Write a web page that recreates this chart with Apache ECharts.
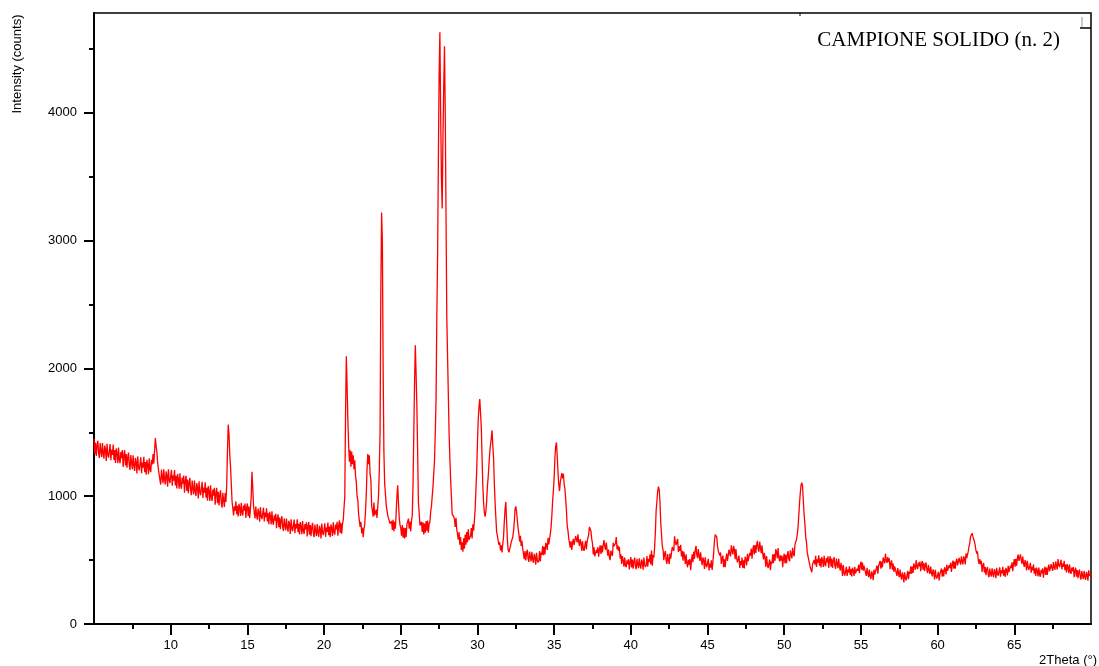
<!DOCTYPE html>
<html>
<head>
<meta charset="utf-8">
<title>CAMPIONE SOLIDO (n. 2)</title>
<script src="https://cdn.jsdelivr.net/npm/echarts@6/dist/echarts.min.js"></script>
<style>
html, body { margin: 0; padding: 0; background: #fff; }
#chart { width: 1099px; height: 666px; }
</style>
</head>
<body>
<div id="chart"></div>
<script>
// diffrattogramma: 2theta da 5 a 70 gradi, passo 0.05
const twoThetaStart = 5;
const twoThetaStep = 0.05;
const xTickLabels = [10, 15, 20, 25, 30, 35, 40, 45, 50, 55, 60, 65];
const xMinorTicks = [7.5, 12.5, 17.5, 22.5, 27.5, 32.5, 37.5, 42.5, 47.5, 52.5, 57.5, 62.5, 67.5];
const yTickLabels = [0, 1000, 2000, 3000, 4000];
const yMinorTicks = [500, 1500, 2500, 3500, 4500];
// una riga per grado (x.00 ... x.95)
const countsByDegree = [
  [1450,1331,1420,1314,1397,1434,1334,1299,1415,1354,1306,1415,1335,1294,1396,1362,1275,1410,1329,1301], // 5
  [1312,1407,1281,1363,1322,1404,1284,1360,1260,1374,1333,1258,1380,1286,1258,1346,1298,1361,1228,1317], // 6
  [1360,1240,1329,1222,1305,1341,1241,1205,1321,1259,1211,1319,1239,1197,1299,1264,1177,1311,1230,1201], // 7
  [1207,1305,1179,1264,1223,1308,1188,1267,1167,1284,1243,1171,1297,1209,1188,1284,1248,1329,1255,1360], // 8
  [1455,1390,1345,1260,1210,1224,1125,1091,1208,1148,1101,1210,1131,1091,1194,1161,1074,1210,1130,1102], // 9
  [1112,1207,1081,1163,1122,1204,1084,1160,1060,1174,1133,1058,1180,1086,1058,1146,1098,1161,1028,1117], // 10
  [1160,1041,1130,1023,1106,1143,1043,1008,1123,1062,1014,1123,1043,1001,1103,1069,982,1117,1035,1007], // 11
  [1017,1112,986,1068,1027,1109,989,1065,965,1079,1038,963,1085,991,963,1051,1003,1066,933,1022], // 12
  [1065,945,1034,927,1010,1046,946,910,1026,964,916,1024,954,1080,1350,1560,1490,1330,1230,1100], // 13
  [960,955,849,921,887,959,858,925,841,940,906,845,949,872,849,926,886,942,830,908], // 14
  [943,843,919,830,901,1000,1190,1070,930,867,826,919,851,816,903,874,800,914,845,821], // 15
  [830,910,803,872,836,905,803,867,781,878,842,778,881,801,776,851,809,862,749,824], // 16
  [858,757,832,742,812,843,758,728,826,774,733,825,757,722,808,779,705,819,750,726], // 17
  [735,817,711,782,748,819,718,784,700,798,764,702,806,728,705,781,741,796,684,761], // 18
  [798,699,775,687,758,791,707,679,778,728,688,782,715,682,769,742,669,785,717,695], // 19
  [705,788,682,754,721,793,694,762,680,780,748,688,795,719,699,778,741,799,690,770], // 20
  [810,713,792,706,780,815,820,1000,1650,2095,1860,1600,1400,1270,1360,1230,1350,1250,1320,1210], // 21
  [1280,1160,1110,1000,970,860,850,760,800,710,755,680,745,780,880,1010,1210,1330,1250,1320], // 22
  [1170,1130,930,920,840,950,850,865,895,830,920,1000,1200,1500,2600,3220,3000,2000,1350,1100], // 23
  [1020,930,920,850,850,860,785,800,805,735,815,725,800,745,870,1000,1085,950,830,775], // 24
  [750,690,775,675,755,670,750,680,780,795,825,745,800,725,810,850,1100,1500,1900,2180], // 25
  [1950,1700,1350,950,870,770,785,800,720,795,700,785,715,805,730,810,715,780,800,880], // 26
  [920,1000,1070,1180,1280,1500,1750,2400,2870,3600,4300,4630,4000,3500,3250,3800,4200,4520,4000,3200], // 27
  [2400,2100,1800,1500,1300,1130,1000,860,850,840,820,760,830,740,740,660,720,620,680,580], // 28
  [640,565,670,590,700,620,720,640,740,660,670,690,750,670,780,730,810,900,1050,1200], // 29
  [1420,1600,1700,1760,1650,1540,1300,1080,950,870,840,880,960,1080,1150,1250,1340,1400,1450,1515], // 30
  [1400,1300,1100,950,830,720,690,650,620,640,575,615,560,630,680,800,900,955,800,660], // 31
  [580,560,570,610,640,625,680,725,800,900,920,880,810,750,705,645,690,610,650,590], // 32
  [590,508,570,497,555,581,511,486,566,523,489,564,508,479,549,525,464,557,500,480], // 33
  [497,570,489,558,541,610,538,603,545,636,619,579,675,622,614,705,760,850,960,1040], // 34
  [1150,1300,1390,1420,1310,1190,1090,1040,1110,1110,1180,1140,1175,1095,1060,980,890,770,730,670], // 35
  [680,598,649,580,637,666,616,606,688,662,639,702,644,610,664,634,572,646,588,572], // 36
  [580,650,584,646,642,700,760,775,725,665,628,544,600,529,518,579,556,601,526,582], // 37
  [615,548,614,560,622,656,606,581,638,582,534,582,524,500,574,569,532,636,608,612], // 38
  [630,680,584,616,572,604,512,545,470,532,498,449,520,462,444,498,468,506,426,482], // 39
  [523,442,505,433,492,519,451,428,510,469,437,514,460,433,505,483,424,519,464,446], // 40
  [462,532,448,509,484,545,465,575,456,539,519,600,720,890,960,1040,1075,1050,950,790], // 41
  [700,610,580,500,549,571,498,470,547,501,469,551,512,505,602,605,571,686,641,618], // 42
  [612,665,564,608,571,620,528,573,495,566,529,469,545,472,444,502,465,509,420,494], // 43
  [545,484,567,510,579,611,543,515,587,536,494,561,497,460,522,495,431,521,464,444], // 44
  [447,510,419,473,441,498,423,485,560,650,700,710,680,610,570,570,535,560,470,514], // 45
  [535,444,507,445,514,551,493,485,582,551,529,616,572,545,612,580,506,586,516,483], // 46
  [477,535,439,493,461,520,438,498,435,526,504,459,550,492,484,557,535,591,510,579], // 47
  [615,544,617,555,619,651,588,565,644,596,554,616,547,505,557,520,446,531,466,438], // 48
  [439,505,421,488,471,545,478,548,495,586,564,514,595,522,489,537,495,536,445,514], // 49
  [550,474,542,475,539,571,508,490,577,541,514,596,547,530,622,630,660,700,760,850], // 50
  [950,1030,1090,1106,1070,950,850,780,680,640,560,575,500,510,440,455,405,470,455,500], // 51
  [465,533,447,506,479,538,456,511,443,524,497,447,533,470,452,515,483,529,438,502], // 52
  [530,449,511,439,497,524,455,432,513,471,437,511,452,417,479,445,376,461,401,378], // 53
  [391,448,376,425,402,452,383,429,372,440,418,376,448,395,380,433,416,464,398,456], // 54
  [488,425,481,417,456,469,402,376,439,397,366,425,377,352,411,391,342,426,387,378], // 55
  [393,458,394,451,436,494,433,489,442,520,508,474,550,497,478,523,486,514,428,476], // 56
  [498,425,473,407,451,466,402,376,437,397,366,425,375,347,403,380,326,404,357,341], // 57
  [353,416,351,408,392,452,393,449,400,475,460,424,500,447,430,481,451,489,413,466], // 58
  [493,425,478,414,461,481,421,398,462,422,391,450,400,372,428,404,349,424,374,355], // 59
  [359,408,340,390,377,434,371,423,372,444,426,388,464,415,404,461,438,480,408,465], // 60
  [496,432,489,432,485,512,459,444,517,486,464,530,487,466,529,512,466,552,515,513], // 61
  [570,610,635,685,695,710,685,675,645,615,575,550,568,500,470,508,466,494,408,456], // 62
  [478,402,448,382,426,446,387,366,433,397,371,435,390,367,428,409,359,439,394,378], // 63
  [386,443,371,420,397,447,378,424,369,439,419,380,456,407,398,457,437,482,413,473], // 64
  [508,448,509,456,513,544,493,478,545,504,471,528,475,446,501,476,420,494,444,423], // 65
  [426,478,402,447,420,466,393,436,376,441,416,372,442,387,370,423,396,436,362,417], // 66
  [448,384,441,384,437,464,411,396,469,438,416,484,443,424,489,474,426,508,463,445], // 67
  [449,503,428,473,447,494,421,464,404,468,443,398,466,410,392,441,411,446,366,416], // 68
  [440,370,421,358,405,426,367,347,415,379,352,415,369,346,407,388,339,420,377,363], // 69
  [390] // 70
];

const points = [];
countsByDegree.forEach((row, r) => {
  row.forEach((c, j) => {
    const x = Math.round((twoThetaStart + r + j * twoThetaStep) * 100) / 100;
    points.push([x, c]);
  });
});

const black = '#000';
const chart = echarts.init(document.getElementById('chart'));
const option = {
  animation: false,
  backgroundColor: '#fff',
  textStyle: { fontFamily: '"Liberation Sans", Arial, sans-serif' },
  grid: { left: 94, right: 8, top: 13, bottom: 42, show: true, borderColor: black, borderWidth: 1.5 },
  xAxis: [
    {
      type: 'value',
      position: 'bottom',
      min: 5,
      max: 70,
      interval: 5,
      axisLine: { lineStyle: { color: black, width: 2 } },
      axisTick: { length: 11, customValues: xTickLabels, lineStyle: { color: black, width: 2 } },
      axisLabel: { color: black, fontSize: 13, margin: 15, customValues: xTickLabels, formatter: v => String(v) },
      splitLine: { show: false }
    },
    {
      // tacche intermedie
      type: 'value',
      position: 'bottom',
      min: 5,
      max: 70,
      axisLine: { show: false },
      axisTick: { show: true, length: 5, customValues: xMinorTicks, lineStyle: { color: black, width: 2 } },
      axisLabel: { show: false },
      splitLine: { show: false }
    }
  ],
  yAxis: [
    {
      type: 'value',
      min: 0,
      max: 4780,
      interval: 1000,
      axisLine: { show: true, lineStyle: { color: black, width: 2 } },
      axisTick: { show: true, length: 10, customValues: yTickLabels, lineStyle: { color: black, width: 2 } },
      axisLabel: { color: black, fontSize: 13, margin: 17, customValues: yTickLabels, formatter: v => String(v) },
      splitLine: { show: false }
    },
    {
      type: 'value',
      position: 'left',
      min: 0,
      max: 4780,
      axisLine: { show: false },
      axisTick: { show: true, length: 5, customValues: yMinorTicks, lineStyle: { color: black, width: 2 } },
      axisLabel: { show: false },
      splitLine: { show: false }
    }
  ],
  series: [{
    type: 'line',
    data: points,
    xAxisIndex: 0,
    yAxisIndex: 0,
    showSymbol: false,
    symbol: 'none',
    sampling: 'none',
    lineStyle: { color: '#ff0000', width: 1.3 },
    z: 3
  }],
  graphic: [
    {
      type: 'text', x: 1060, y: 40,
      style: { text: 'CAMPIONE SOLIDO (n. 2)', fill: black, font: '21px "Liberation Serif", "Times New Roman", serif', textAlign: 'right', textVerticalAlign: 'middle' }
    },
    {
      type: 'text', x: 17, y: 64, rotation: Math.PI / 2,
      style: { text: 'Intensity (counts)', fill: black, font: '13px "Liberation Sans", Arial, sans-serif', textAlign: 'center', textVerticalAlign: 'middle' }
    },
    {
      type: 'text', x: 1097, y: 660,
      style: { text: '2Theta (°)', fill: black, font: '13px "Liberation Sans", Arial, sans-serif', textAlign: 'right', textVerticalAlign: 'middle' }
    },
    { type: 'line', shape: { x1: 1082, y1: 17, x2: 1082, y2: 27 }, style: { stroke: '#999', lineWidth: 1 } },
    { type: 'line', shape: { x1: 1080, y1: 28, x2: 1091, y2: 28 }, style: { stroke: black, lineWidth: 1.5 } },
    { type: 'line', shape: { x1: 800, y1: 13, x2: 800, y2: 16 }, style: { stroke: black, lineWidth: 1 } }
  ]
};
chart.setOption(option);
</script>
</body>
</html>
